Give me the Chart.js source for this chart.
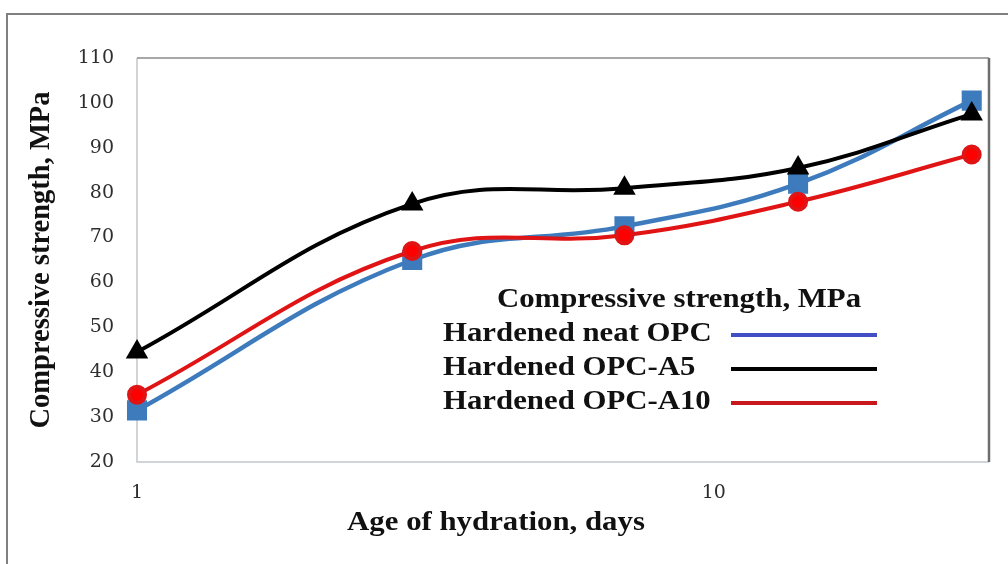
<!DOCTYPE html>
<html lang="en">
<head>
    <meta charset="UTF-8">
    <title>Compressive strength vs age of hydration</title>
    <script src="https://cdn.jsdelivr.net/npm/chart.js"></script>
    <style>
        body {
            margin: 0;
            background: #fff;
        }
        #wrap {
            width: 1008px;
            height: 564px;
        }
    </style>
</head>
<body>
    <div id="wrap">
        <canvas id="strengthChart" width="1008" height="564"></canvas>
    </div>

    <script>
        // age of hydration (days) and strength (MPa)
        const ages = [1, 3, 7, 14, 28];
        const neatOPC = [31.5, 65, 72.5, 82, 100.5];
        const opcA5 = [44.5, 77.5, 81, 85.5, 97.5];
        const opcA10 = [35, 67, 70.5, 78, 88.5];
        const xTicks = [1, 10];
        const legendTitle = 'Compressive strength, MPa';
        const legendNames = ['Hardened neat OPC', 'Hardened OPC-A5', 'Hardened OPC-A10'];
        const legendColors = ['#4050c4', '#000000', '#c8181c'];

        const serif = '"Liberation Serif", "Times New Roman", serif';
        const tickFont = '"DejaVu Serif", serif';

        function pairs(ys) {
            return ages.map((a, i) => ({ x: a, y: ys[i] }));
        }

        // text a bit wider than the font's natural width
        function wideText(ctx, text, x, y, align) {
            const sx = 1.1;
            ctx.save();
            ctx.translate(x, y);
            ctx.scale(sx, 1);
            ctx.textAlign = align;
            ctx.fillText(text, 0, 0);
            ctx.restore();
        }

        // frame, plot border, legend box and x title
        const decor = {
            id: 'decor',
            beforeDraw(chart) {
                const ctx = chart.ctx;
                ctx.save();
                ctx.fillStyle = '#fff';
                ctx.fillRect(0, 0, chart.width, chart.height);
                ctx.strokeStyle = '#808080';
                ctx.lineWidth = 2;
                ctx.beginPath();
                ctx.moveTo(7, chart.height);
                ctx.lineTo(7, 14);
                ctx.lineTo(chart.width, 14);
                ctx.stroke();
                ctx.restore();
            },
            beforeDatasetsDraw(chart) {
                const { ctx, chartArea: a } = chart;
                ctx.save();
                ctx.lineWidth = 1.5;
                ctx.strokeStyle = '#c4c8cc';
                ctx.beginPath();
                ctx.moveTo(a.left, a.top);
                ctx.lineTo(a.left, a.bottom);
                ctx.lineTo(a.right, a.bottom);
                ctx.stroke();
                ctx.strokeStyle = '#8a8a8a';
                ctx.beginPath();
                ctx.moveTo(a.left, a.top);
                ctx.lineTo(a.right, a.top);
                ctx.stroke();
                ctx.strokeStyle = '#6e6e6e';
                ctx.lineWidth = 2.5;
                ctx.beginPath();
                ctx.moveTo(a.right, a.top);
                ctx.lineTo(a.right, a.bottom);
                ctx.stroke();
                ctx.restore();
            },
            afterDraw(chart) {
                const ctx = chart.ctx;
                ctx.save();
                ctx.fillStyle = '#111';
                ctx.textBaseline = 'middle';
                ctx.font = 'bold 28px ' + serif;
                wideText(ctx, legendTitle, 679, 300, 'center');
                wideText(ctx, 'Age of hydration, days', 496, 523, 'center');
                const rows = [334, 368, 402];
                legendNames.forEach((name, i) => {
                    ctx.fillStyle = '#111';
                    wideText(ctx, name, 443, rows[i], 'left');
                    ctx.strokeStyle = legendColors[i];
                    ctx.lineWidth = 4;
                    ctx.beginPath();
                    ctx.moveTo(731, rows[i] + 1);
                    ctx.lineTo(877, rows[i] + 1);
                    ctx.stroke();
                });
                ctx.restore();
            }
        };

        new Chart(document.getElementById('strengthChart'), {
            type: 'line',
            data: {
                datasets: [
                    {
                        label: legendNames[0],
                        data: pairs(neatOPC),
                        borderColor: '#3d7bbd',
                        backgroundColor: '#3d7bbd',
                        borderWidth: 4.5,
                        pointStyle: 'rect',
                        pointRadius: 11,
                        tension: 0.4,
                        clip: false,
                        order: 3
                    },
                    {
                        label: legendNames[1],
                        data: pairs(opcA5),
                        borderColor: '#000',
                        backgroundColor: '#000',
                        borderWidth: 4,
                        pointStyle: 'triangle',
                        pointRadius: 9,
                        tension: 0.4,
                        clip: false,
                        order: 2
                    },
                    {
                        label: legendNames[2],
                        data: pairs(opcA10),
                        borderColor: '#e01414',
                        backgroundColor: '#ff0000',
                        borderWidth: 4,
                        pointStyle: 'circle',
                        pointRadius: 8,
                        tension: 0.4,
                        clip: false,
                        order: 1
                    }
                ]
            },
            options: {
                responsive: false,
                animation: false,
                layout: { padding: { left: 0, top: 58, right: 19, bottom: 0 } },
                plugins: {
                    legend: { display: false },
                    tooltip: { enabled: false }
                },
                scales: {
                    x: {
                        type: 'logarithmic',
                        min: 1,
                        max: 30,
                        grid: { display: false, drawTicks: false },
                        border: { display: false },
                        afterBuildTicks(scale) {
                            scale.ticks = xTicks.map(v => ({ value: v }));
                        },
                        afterFit(scale) {
                            scale.height = 102;
                        },
                        ticks: {
                            padding: 20,
                            color: '#2e2e2e',
                            font: { family: tickFont, size: 19 },
                            callback: v => String(v)
                        }
                    },
                    y: {
                        min: 20,
                        max: 110,
                        grid: { display: false, drawTicks: false },
                        border: { display: false },
                        afterFit(scale) {
                            scale.width = 137;
                        },
                        ticks: {
                            stepSize: 10,
                            padding: 23,
                            color: '#2e2e2e',
                            font: { family: tickFont, size: 19 }
                        },
                        title: {
                            display: true,
                            text: 'Compressive strength, MPa',
                            color: '#111',
                            padding: { top: 25, bottom: 0 },
                            font: { family: serif, size: 28.5, weight: 'bold' }
                        }
                    }
                }
            },
            plugins: [decor]
        });
    </script>
</body>
</html>
